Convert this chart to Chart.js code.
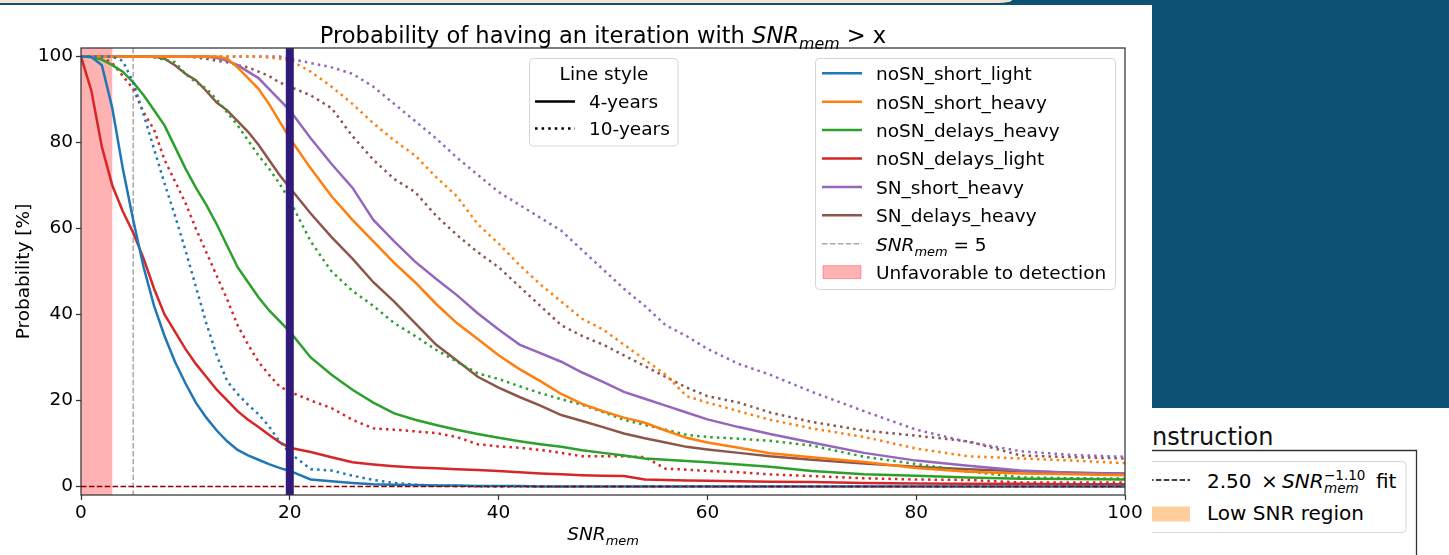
<!DOCTYPE html>
<html>
<head>
<meta charset="utf-8">
<script src="https://cdn.jsdelivr.net/npm/chart.js@4.4.1/dist/chart.umd.min.js"></script>
<style>
  html, body { margin: 0; padding: 0; background: #fff; }
  body { width: 1449px; height: 555px; position: relative; overflow: hidden; font-family: "DejaVu Sans", sans-serif; }
  #band { position: absolute; left: 0; top: 0; width: 1449px; height: 5px; background: #0b5274; z-index: 3; }
  #band-light { position: absolute; left: 0; top: 0; width: 1012px; height: 3px; background: #f4e4cf; border-bottom-right-radius: 14px 3px; z-index: 4; }
  #side { position: absolute; left: 1152px; top: 0; width: 297px; height: 408px; background: #0b5274; }
  #panel { position: absolute; left: 1152px; top: 408px; overflow: visible; }
  #plot { position: absolute; left: 0; top: 0; z-index: 2; }
</style>
</head>
<body>
<div id="band"></div>
<div id="band-light"></div>
<div id="side"></div>
<svg id="panel" width="297" height="147" font-family="DejaVu Sans">
  <text x="0" y="37" font-size="24" fill="#111">nstruction</text>
  <path d="M-10 42.5 H264.5 V147" fill="none" stroke="#333" stroke-width="1.3"/>
  <rect x="-10" y="53.5" width="264" height="71" rx="4" fill="#fff" stroke="#d6d6d6"/>
  <line x1="-4" y1="72" x2="38" y2="72" stroke="#000" stroke-width="1.5" stroke-dasharray="5.5 2.4"/>
  <text y="80" font-size="20" fill="#000"><tspan x="55">2.50</tspan><tspan x="109">×</tspan><tspan x="130" font-style="italic">SNR</tspan><tspan x="172" dy="5" font-size="13.5" font-style="italic">mem</tspan><tspan x="172" dy="-13" font-size="13.5">−1.10</tspan><tspan x="224" dy="8">fit</tspan></text>
  <rect x="-4" y="98.5" width="42" height="15" fill="#fecf9c"/>
  <text x="55" y="112" font-size="20" fill="#000">Low SNR region</text>
</svg>
<canvas id="plot" width="1152" height="555"></canvas>

<script>
// SNR_mem sample points (x axis)
const SNR = [0, 1, 2, 3, 4, 5, 6, 7, 8, 9, 10, 11, 12, 13, 14, 15, 16, 17, 18, 19, 20,
  22, 24, 26, 28, 30, 32, 34, 36, 38, 40, 42, 44, 46, 48, 50, 52, 54, 56, 58, 60,
  63, 66, 70, 75, 80, 85, 90, 95, 100];

// 4-year runs, probability [%] of an iteration above each SNR
const shortLight4 = [100, 99.9, 98, 88, 74, 62, 51, 42, 35, 29, 24, 19.5, 16, 13, 10.5, 8.5, 7.2, 6.2, 5.2, 4.3, 3.6,
  1.6, 1.2, 0.8, 0.5, 0.4, 0.3, 0.2, 0.2, 0.1, 0.1, 0.1, 0, 0, 0, 0, 0, 0, 0, 0, 0,
  0, 0, 0, 0, 0, 0, 0, 0, 0];
const shortHeavy4 = [100, 100, 100, 100, 100, 100, 100, 100, 100, 100, 100, 100, 100, 100, 99.5, 97.5, 95, 92.5, 89, 85, 81,
  74, 67.5, 62, 57, 52, 47.5, 42.5, 38, 34.3, 30.5, 27.3, 24.5, 21.5, 19.2, 17.5, 16, 14.8, 13, 11.3, 10.2,
  9, 7.7, 6.8, 5.7, 4.3, 3.4, 3, 2.8, 2.6];
const delaysHeavy4 = [100, 99.9, 99.3, 98, 96.5, 94, 91, 87.5, 84, 79, 74, 69.5, 65.5, 61, 56, 51, 47.5, 44, 41, 38.5, 36,
  30, 26, 22.5, 19.5, 17, 15.5, 14.3, 13.2, 12.2, 11.3, 10.5, 9.8, 9.2, 8.4, 7.8, 7.2, 6.5, 6.2, 5.9, 5.6,
  5.1, 4.6, 3.6, 2.8, 2.5, 2.1, 1.8, 1.7, 1.6];
const delaysLight4 = [100, 92, 79, 70, 64, 59, 53, 46, 40, 36, 32, 28.5, 25.5, 22.5, 20, 17.5, 15.5, 13.8, 12, 10.3, 9,
  8, 6.8, 5.6, 5.1, 4.7, 4.4, 4.2, 4, 3.8, 3.6, 3.3, 3, 2.8, 2.6, 2.5, 2.4, 1.6, 1.5, 1.4, 1.3,
  1.2, 1.1, 1, 0.8, 0.7, 0.6, 0.6, 0.5, 0.5];
const snShortHeavy4 = [100, 100, 100, 100, 100, 100, 100, 100, 100, 100, 100, 100, 100, 99.7, 99, 98, 96.5, 95, 92.5, 90, 87.5,
  81, 75, 69.5, 62, 57, 52.3, 48.3, 44.5, 40.3, 36.5, 33, 31, 29, 26.5, 24.3, 22, 20.4, 18.8, 17.2, 15.6,
  13.8, 12.2, 10.2, 7.8, 6, 4.8, 3.7, 3.2, 2.9];
const snDelaysHeavy4 = [100, 100, 100, 100, 100, 100, 100, 100, 99.5, 98, 96, 94.5, 92, 89.3, 87.5, 85, 82.5, 79.5, 76, 72.5, 69.5,
  63.5, 58, 53, 47.5, 43, 38, 33, 29.3, 25.5, 23, 20.8, 18.8, 16.6, 15.2, 13.8, 12.3, 11.2, 10.2, 9.2, 8.6,
  7.8, 7, 6.2, 5.3, 4.6, 4, 3.5, 3.2, 3];

// 10-year runs
const shortLight10 = [100, 100, 100, 100, 99, 94, 86.5, 78.5, 70.5, 63, 55, 46.5, 38, 30.5, 24.5, 21.5, 19, 16.8, 14, 10.5, 7.8,
  4, 3.7, 2.5, 1.5, 0.8, 0.4, 0.2, 0.1, 0, 0, 0, 0, 0, 0, 0, 0, 0, 0, 0, 0,
  0, 0, 0, 0, 0, 0, 0, 0, 0];
const shortHeavy10 = [100, 100, 100, 100, 100, 100, 100, 100, 100, 100, 100, 100, 100, 100, 100, 100, 100, 100, 99.8, 99.5, 99.2,
  96.5, 93, 89, 84.5, 80.5, 77, 72, 67.5, 61, 56.5, 51.5, 47, 43, 39, 36.5, 33, 29.5, 26, 21, 19.5,
  17.5, 15.5, 13.5, 11.5, 8.8, 7, 6.5, 6, 5.4];
const delaysHeavy10 = [100, 100, 100, 100, 100, 100, 100, 99.8, 99.3, 98.7, 96, 94, 92.6, 90, 87, 84, 80.5, 77, 74, 70.5, 66.5,
  57, 50, 45.5, 42, 38, 35, 31.8, 29, 26.3, 25, 23.3, 21.7, 20.3, 19, 17.3, 15.5, 14.3, 13.2, 12, 11.5,
  11.1, 10.6, 9.5, 6.9, 5.2, 3.5, 2.1, 1.9, 1.8];
const delaysLight10 = [100, 100, 99.8, 98.5, 95.5, 92.5, 87, 83, 76, 71, 66, 60, 54.5, 49, 43.5, 37.5, 33, 29, 26, 23.3, 22,
  20, 18.2, 15.5, 13.5, 13.2, 12.8, 12.4, 11.5, 9.8, 9.3, 9, 8.5, 7.8, 7, 7, 7, 6.8, 4.1, 3.9, 3.6,
  3.3, 2.8, 2.4, 1.9, 1.6, 1.5, 0.9, 0.9, 0.9];
const snShortHeavy10 = [100, 100, 100, 100, 100, 100, 100, 100, 100, 100, 100, 100, 100, 100, 100, 100, 100, 100, 100, 100, 99.5,
  98.5, 97.5, 96, 93, 89, 85, 81, 76.5, 72.5, 68.5, 65.5, 62.5, 59.5, 55, 50.5, 46, 42, 37.5, 35, 32,
  28.5, 26, 22, 17.5, 13.2, 10.3, 8.2, 7.3, 6.9];
const snDelaysHeavy10 = [100, 100, 100, 100, 100, 100, 100, 100, 100, 100, 100, 99.8, 99.5, 99, 98.7, 98, 97.5, 96.5, 95.5, 94, 93,
  91, 88, 81.5, 76, 71.5, 68.5, 63, 58.5, 54.5, 51, 46.5, 42, 37.5, 35, 33, 30.5, 28, 25.5, 23, 21,
  19.5, 17.2, 15, 13, 11.8, 10.5, 7.2, 6.8, 6.5];

const NAMES = ['noSN_short_light', 'noSN_short_heavy', 'noSN_delays_heavy', 'noSN_delays_light', 'SN_short_heavy', 'SN_delays_heavy'];
const COLORS = ['#1f77b4', '#ff7f0e', '#2ca02c', '#d62728', '#9467bd', '#8c564b'];
const RUNS_4Y = [shortLight4, shortHeavy4, delaysHeavy4, delaysLight4, snShortHeavy4, snDelaysHeavy4];
const RUNS_10Y = [shortLight10, shortHeavy10, delaysHeavy10, delaysLight10, snShortHeavy10, snDelaysHeavy10];

const X_TICKS = [0, 20, 40, 60, 80, 100];
const Y_TICKS = [0, 20, 40, 60, 80, 100];
const LOW_SPAN = [0, 3];     // unfavorable to detection
const SNR_REF = 5;           // SNR_mem = 5 reference
const SNR_MARK = 20;         // highlighted SNR
const FLOOR = 0;             // zero probability line

const FONT = '"DejaVu Sans", sans-serif';
const FS = 18.5;
const DOT = [2.5, 4.1];

function toPoints(vals) {
  return SNR.map((x, i) => ({ x, y: vals[i] }));
}

const datasets = [];
NAMES.forEach((name, i) => {
  datasets.push({ label: name + ' (4-years)', data: toPoints(RUNS_4Y[i]), borderColor: COLORS[i],
    borderWidth: 2.5, pointRadius: 0, tension: 0, fill: false });
  datasets.push({ label: name + ' (10-years)', data: toPoints(RUNS_10Y[i]), borderColor: COLORS[i],
    borderWidth: 2.5, borderDash: DOT, borderCapStyle: 'butt', pointRadius: 0, tension: 0, fill: false });
});

// text with italic / subscript parts, like matplotlib mathtext
function mathText(ctx, parts, x, y, size, align) {
  const fonts = parts.map(p => `${p.it ? 'italic ' : ''}${p.sub ? size * 0.7 : size}px ${FONT}`);
  const widths = parts.map((p, i) => { ctx.font = fonts[i]; return ctx.measureText(p.t).width; });
  const total = widths.reduce((a, b) => a + b, 0);
  let cx = align === 'center' ? x - total / 2 : x;
  ctx.textAlign = 'left';
  ctx.textBaseline = 'alphabetic';
  parts.forEach((p, i) => {
    ctx.font = fonts[i];
    ctx.fillText(p.t, cx, p.sub ? y + size * 0.27 : y);
    cx += widths[i];
  });
}

function legendFrame(ctx, x, y, w, h) {
  ctx.beginPath();
  ctx.roundRect(x, y, w, h, 4);
  ctx.fillStyle = 'rgba(255,255,255,0.8)';
  ctx.fill();
  ctx.strokeStyle = '#d6d6d6';
  ctx.lineWidth = 1;
  ctx.stroke();
}

function hLine(ctx, x0, x1, y, color, width, dash) {
  ctx.beginPath();
  ctx.setLineDash(dash || []);
  ctx.strokeStyle = color;
  ctx.lineWidth = width;
  ctx.moveTo(x0, y);
  ctx.lineTo(x1, y);
  ctx.stroke();
  ctx.setLineDash([]);
}

const decor = {
  id: 'decor',
  beforeDraw(chart) {
    const ctx = chart.ctx;
    ctx.save();
    ctx.fillStyle = '#fff';
    ctx.fillRect(0, 0, chart.width, chart.height);
    ctx.restore();
  },
  beforeDatasetsDraw(chart) {
    const { ctx, chartArea: a, scales: { x } } = chart;
    ctx.save();
    const s0 = x.getPixelForValue(LOW_SPAN[0]);
    const s1 = x.getPixelForValue(LOW_SPAN[1]);
    ctx.fillStyle = 'rgba(255,0,0,0.3)';
    ctx.fillRect(s0, a.top, s1 - s0, a.bottom - a.top);

    const xr = x.getPixelForValue(SNR_REF);
    ctx.beginPath();
    ctx.setLineDash([5.5, 2.4]);
    ctx.strokeStyle = '#a9a9a9';
    ctx.lineWidth = 1.5;
    ctx.moveTo(xr, a.top);
    ctx.lineTo(xr, a.bottom);
    ctx.stroke();
    ctx.restore();
  },
  afterDatasetsDraw(chart) {
    const { ctx, chartArea: a, scales: { x, y } } = chart;
    ctx.save();
    // zero line
    hLine(ctx, a.left, a.right, y.getPixelForValue(FLOOR), '#8b0000', 1.5, [5.5, 2.4]);

    // highlighted SNR
    const xm = x.getPixelForValue(SNR_MARK);
    ctx.beginPath();
    ctx.strokeStyle = '#311b79';
    ctx.lineWidth = 8;
    ctx.moveTo(xm, a.top);
    ctx.lineTo(xm, a.bottom);
    ctx.stroke();

    // axes frame
    ctx.strokeStyle = '#333';
    ctx.lineWidth = 1.25;
    ctx.strokeRect(a.left, a.top, a.right - a.left, a.bottom - a.top);

    // line style legend
    legendFrame(ctx, 529.5, 58.5, 148.5, 87.5);
    ctx.fillStyle = '#000';
    ctx.font = `${FS}px ${FONT}`;
    ctx.textAlign = 'center';
    ctx.fillText('Line style', 604, 80);
    hLine(ctx, 535, 575, 101.5, '#000', 2.5);
    hLine(ctx, 535, 575, 128.5, '#000', 2.5, DOT);
    ctx.textAlign = 'left';
    ctx.fillStyle = '#000';
    ctx.font = `${FS}px ${FONT}`;
    ctx.fillText('4-years', 589, 108);
    ctx.fillText('10-years', 589, 135);

    // series legend
    legendFrame(ctx, 815.5, 58.5, 300, 231);
    const rowY = i => 73.3 + i * 28.4;
    NAMES.forEach((name, i) => {
      hLine(ctx, 822, 862, rowY(i), COLORS[i], 2.5);
      ctx.fillStyle = '#000';
      ctx.font = `${FS}px ${FONT}`;
      ctx.textAlign = 'left';
      ctx.fillText(name, 876, rowY(i) + 6.9);
    });
    hLine(ctx, 822, 862, rowY(6), '#a9a9a9', 1.5, [5.5, 2.4]);
    ctx.fillStyle = '#000';
    mathText(ctx, [{ t: 'SNR', it: true }, { t: 'mem', it: true, sub: true }, { t: ' = 5' }], 876, rowY(6) + 6.9, FS, 'left');
    ctx.fillStyle = 'rgba(255,0,0,0.3)';
    ctx.strokeStyle = 'rgba(255,0,0,0.3)';
    ctx.lineWidth = 1;
    ctx.fillRect(823, rowY(7) - 6.5, 38, 13);
    ctx.strokeRect(823, rowY(7) - 6.5, 38, 13);
    ctx.fillStyle = '#000';
    ctx.font = `${FS}px ${FONT}`;
    ctx.fillText('Unfavorable to detection', 876, rowY(7) + 6.9);
    ctx.restore();
  },
  afterDraw(chart) {
    const { ctx, chartArea: a } = chart;
    ctx.save();
    ctx.fillStyle = '#000';
    const cx = (a.left + a.right) / 2;
    mathText(ctx, [{ t: 'Probability of having an iteration with ' }, { t: 'SNR', it: true },
      { t: 'mem', it: true, sub: true }, { t: ' > x' }], cx, 42.5, 22.6, 'center');
    mathText(ctx, [{ t: 'SNR', it: true }, { t: 'mem', it: true, sub: true }], cx, 540, FS, 'center');

    ctx.translate(28.5, (a.top + a.bottom) / 2);
    ctx.rotate(-Math.PI / 2);
    ctx.font = `${FS}px ${FONT}`;
    ctx.textAlign = 'center';
    ctx.textBaseline = 'alphabetic';
    ctx.fillText('Probability [%]', 0, 0);
    ctx.restore();
  }
};

const tickFont = { family: 'DejaVu Sans', size: FS };

new Chart(document.getElementById('plot'), {
  type: 'line',
  data: { datasets },
  options: {
    responsive: false,
    devicePixelRatio: 1,
    animation: false,
    events: [],
    layout: { padding: { top: 48, right: 27, bottom: 0, left: 0 } },
    plugins: { legend: { display: false }, title: { display: false }, tooltip: { enabled: false } },
    scales: {
      x: {
        type: 'linear',
        min: 0,
        max: 100,
        afterBuildTicks: (scale) => { scale.ticks = X_TICKS.map(v => ({ value: v })); },
        afterFit: (scale) => { scale.height = 60; },
        ticks: { font: tickFont, color: '#000', padding: 2, maxRotation: 0 },
        grid: { display: true, drawOnChartArea: false, drawTicks: true, tickLength: 5, tickColor: '#333', tickWidth: 1.25 },
        border: { display: false }
      },
      y: {
        type: 'linear',
        min: -2,
        max: 102,
        afterBuildTicks: (scale) => { scale.ticks = Y_TICKS.map(v => ({ value: v })); },
        afterFit: (scale) => { scale.width = 81; },
        ticks: { font: tickFont, color: '#000', padding: 3 },
        grid: { display: true, drawOnChartArea: false, drawTicks: true, tickLength: 5, tickColor: '#333', tickWidth: 1.25 },
        border: { display: false }
      }
    }
  },
  plugins: [decor]
});
</script>
</body>
</html>
